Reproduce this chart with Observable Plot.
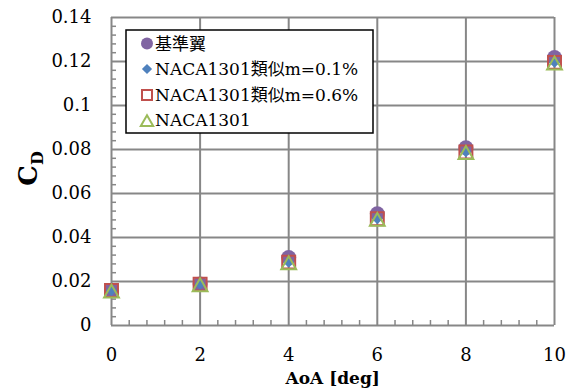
<!DOCTYPE html>
<html>
<head>
<meta charset="utf-8">
<script src="https://cdn.jsdelivr.net/npm/d3@7"></script>
<script src="https://cdn.jsdelivr.net/npm/@observablehq/plot@0.6"></script>
<style>
  html, body { margin: 0; padding: 0; background: #fff; }
  #chart svg { display: block; }
</style>
</head>
<body>
<div id="chart"></div>
<script>
// ---- data ----
const aoa = [0, 2, 4, 6, 8, 10];
const seriesNames = ["基準翼", "NACA1301類似m=0.1%", "NACA1301類似m=0.6%", "NACA1301"];
const cdBase  = [0.0160, 0.0189, 0.0309, 0.0508, 0.0808, 0.1218];
const cdM01   = [0.0159, 0.0188, 0.0288, 0.0485, 0.0790, 0.1197];
const cdM06   = [0.0159, 0.0188, 0.0288, 0.0485, 0.0789, 0.1196];
const cdNaca  = [0.0158, 0.0187, 0.0287, 0.0484, 0.0788, 0.1195];
const xTicks = [0, 2, 4, 6, 8, 10];
const xTickLabels = ["0", "2", "4", "6", "8", "10"];
const yTicks = [0, 0.02, 0.04, 0.06, 0.08, 0.10, 0.12, 0.14];
const yTickLabels = ["0", "0.02", "0.04", "0.06", "0.08", "0.1", "0.12", "0.14"];
const xTitle = "AoA [deg]";
const yTitleMain = "C";
const yTitleSub = "D";

// ---- styles ----
const colors = ["#8064A2", "#4F81BD", "#C0504D", "#9BBB59"];
const gridColor = "#878787";
const serif = "'DejaVu Serif', 'Noto Sans CJK JP', serif";

const rows = (vals) => aoa.map((x, i) => ({x, y: vals[i]}));
const xMinor = d3.range(0, 10.0001, 0.4).filter(v => Math.abs(v / 2 - Math.round(v / 2)) > 1e-6);
const yMinor = d3.range(0, 0.14001, 0.004).filter(v => Math.abs(v / 0.02 - Math.round(v / 0.02)) > 1e-6);

const chart = Plot.plot({
  width: 573,
  height: 389,
  marginLeft: 111,
  marginRight: 19,
  marginTop: 17,
  marginBottom: 64,
  style: {fontFamily: serif, fontSize: "18px", color: "#000", background: "#fff"},
  x: {domain: [0, 10], ticks: xTicks, tickSize: 0, tickPadding: 23,
      tickFormat: (d) => xTickLabels[xTicks.indexOf(d)], label: null},
  y: {domain: [0, 0.14], ticks: yTicks, tickSize: 0, tickPadding: 20,
      tickFormat: (d) => yTickLabels[yTicks.findIndex(t => Math.abs(t - d) < 1e-9)], label: null},
  marks: [
    Plot.ruleX(xTicks, {stroke: gridColor, strokeWidth: 2}),
    Plot.ruleY(yTicks, {stroke: gridColor, strokeWidth: 2}),
    Plot.ruleX(xMinor, {y1: 0, y2: 0, insetTop: -5, stroke: gridColor, strokeWidth: 1.5}),
    Plot.ruleY(yMinor, {x1: 0, x2: 0, insetRight: -5, stroke: gridColor, strokeWidth: 1.5}),
    Plot.dot(rows(cdBase), {x: "x", y: "y", symbol: "circle", r: 7.5, fill: colors[0], stroke: "none"}),
    Plot.dot(rows(cdM01), {x: "x", y: "y", symbol: "diamond2", r: 5, fill: colors[1], stroke: "none"}),
    Plot.dot(rows(cdM06), {x: "x", y: "y", symbol: "square", r: 7.3, fill: "none", stroke: colors[2], strokeWidth: 2}),
    Plot.dot(rows(cdNaca), {x: "x", y: "y", symbol: "triangle", r: 5.5, dy: 2.5, fill: "none", stroke: colors[3], strokeWidth: 2})
  ]
});

document.getElementById("chart").appendChild(chart);

const svg = d3.select(chart);
svg.selectAll("text").attr("font-family", serif);

// axis titles
svg.append("text")
  .attr("x", 332.7).attr("y", 384)
  .attr("text-anchor", "middle")
  .attr("font-family", serif).attr("font-weight", "bold").attr("font-size", 17)
  .attr("fill", "#000")
  .text(xTitle);

const yt = svg.append("text")
  .attr("transform", "translate(37,168.5) rotate(-90)")
  .attr("text-anchor", "middle")
  .attr("font-family", serif).attr("font-weight", "bold")
  .attr("fill", "#000");
yt.append("tspan").attr("font-size", 26).text(yTitleMain);
yt.append("tspan").attr("font-size", 16).attr("dy", 6).text(yTitleSub);

// legend
const lg = svg.append("g");
lg.append("rect")
  .attr("x", 126).attr("y", 30).attr("width", 247).attr("height", 103)
  .attr("fill", "#fff").attr("stroke", "#000").attr("stroke-width", 1.5);
const legendSymbols = [
  {type: d3.symbolCircle, size: Math.PI * 6 * 6, fill: colors[0], stroke: "none", dy: 0},
  {type: d3.symbolDiamond2, size: Math.PI * 4.6 * 4.6, fill: colors[1], stroke: "none", dy: 0},
  {type: d3.symbolSquare, size: 10 * 10, fill: "none", stroke: colors[2], dy: 0},
  {type: d3.symbolTriangle, size: Math.PI * 4.6 * 4.6, fill: "none", stroke: colors[3], dy: 2.5}
];
const baselines = [49.5, 75, 101, 126];
seriesNames.forEach((name, i) => {
  const s = legendSymbols[i];
  lg.append("path")
    .attr("d", d3.symbol(s.type, s.size)())
    .attr("transform", `translate(147,${baselines[i] - 6 + s.dy})`)
    .attr("fill", s.fill).attr("stroke", s.stroke).attr("stroke-width", 2);
  lg.append("text")
    .attr("x", 155).attr("y", baselines[i])
    .attr("text-anchor", "start")
    .attr("font-family", serif).attr("font-size", 17).attr("fill", "#000")
    .text(name);
});
</script>
</body>
</html>
